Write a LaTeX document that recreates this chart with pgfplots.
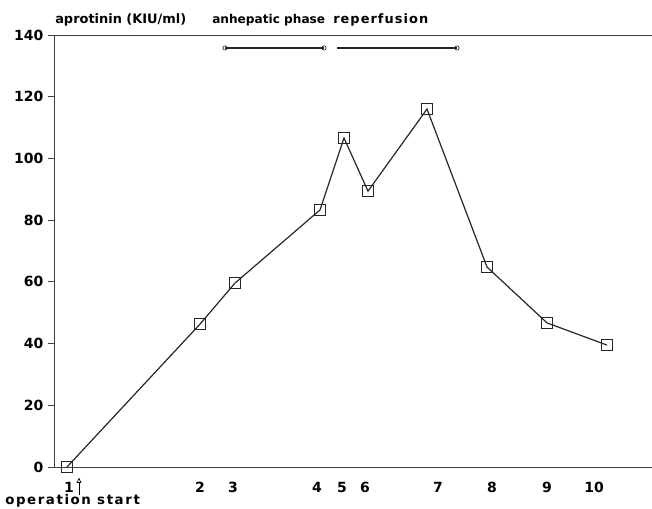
\documentclass[border=0pt]{standalone}
\usepackage{fontspec}
\setmainfont{DejaVu Sans}
\usepackage{pgfplots}
\pgfplotsset{compat=1.18}
\usetikzlibrary{arrows.meta}

\begin{document}
\begin{tikzpicture}
% 1 px of the reference = 0.75pt; axis corner at px (54,467)
\useasboundingbox (-40.5pt,-31.5pt) rectangle (448.5pt,350.25pt);
\begin{axis}[
  scale only axis,
  width=448.5pt, height=324pt,
  xmin=0, xmax=598, ymin=0, ymax=140,
  axis x line*=bottom, axis y line*=left,
  axis line style={line width=0.7pt, black!75},
  ytick={0,20,...,140},
  xtick={15,146,179,263,288,311,384,438,493,540},
  xticklabels={1,2,3,4,5,6,7,8,9,10},
  x tick style={draw=none},
  y tick style={black!75, line width=0.7pt},
  tick align=outside, major tick length=4.5pt,
  ticklabel style={font=\fontsize{10.5}{12}\selectfont\bfseries},
  /pgf/number format/assume math mode=true,
  xticklabel style={yshift=-3.5pt},
  clip=false,
]
% top frame line
\draw[line width=0.7pt, black!75] (axis cs:0,140) -- (axis cs:598,140);

\addplot[line width=0.9pt, black!85, mark=square, mark size=4pt,
  mark options={line width=0.6pt, solid}] coordinates {
  (13,0)(146,46.3)(181,59.6)(266,83.3)(290,106.6)
  (314,89.4)(373,116)(433,64.8)(493,46.7)(553,39.5)
};

% phase bars
\addplot[line width=1.5pt, black!85, mark=o, mark size=1.6pt,
  mark options={line width=0.5pt, fill=white}, mark indices={1,2}]
  coordinates {(171,135.8)(270,135.8)};
\addplot[line width=1.5pt, black!85, mark=o, mark size=1.6pt,
  mark options={line width=0.5pt, fill=white}, mark indices={2}]
  coordinates {(283,135.8)(403,135.8)};

\node[anchor=west, inner sep=0pt, font=\fontsize{9.7}{12}\selectfont\bfseries]
  at (axis cs:1,144.8) {aprotinin (KIU/ml)};
\node[anchor=west, inner sep=0pt, font=\fontsize{9.1}{12}\selectfont\bfseries]
  at (axis cs:158,144.8) {anhepatic phase};
\node[anchor=west, inner sep=0pt, font=\fontsize{9.7}{12}\selectfont\bfseries\addfontfeatures{LetterSpace=8}]
  at (axis cs:279,144.8) {reperfusion};

\draw[line width=0.5pt, -{Triangle[open, width=3.5pt, length=4pt]}]
  (axis cs:25,-9.0) -- (axis cs:25,-3.4);
\node[anchor=west, inner sep=0pt, font=\fontsize{10}{12}\selectfont\bfseries\addfontfeatures{LetterSpace=12}]
  at (axis cs:-49,-11.0) {operation start};
\end{axis}
\end{tikzpicture}
\end{document}
